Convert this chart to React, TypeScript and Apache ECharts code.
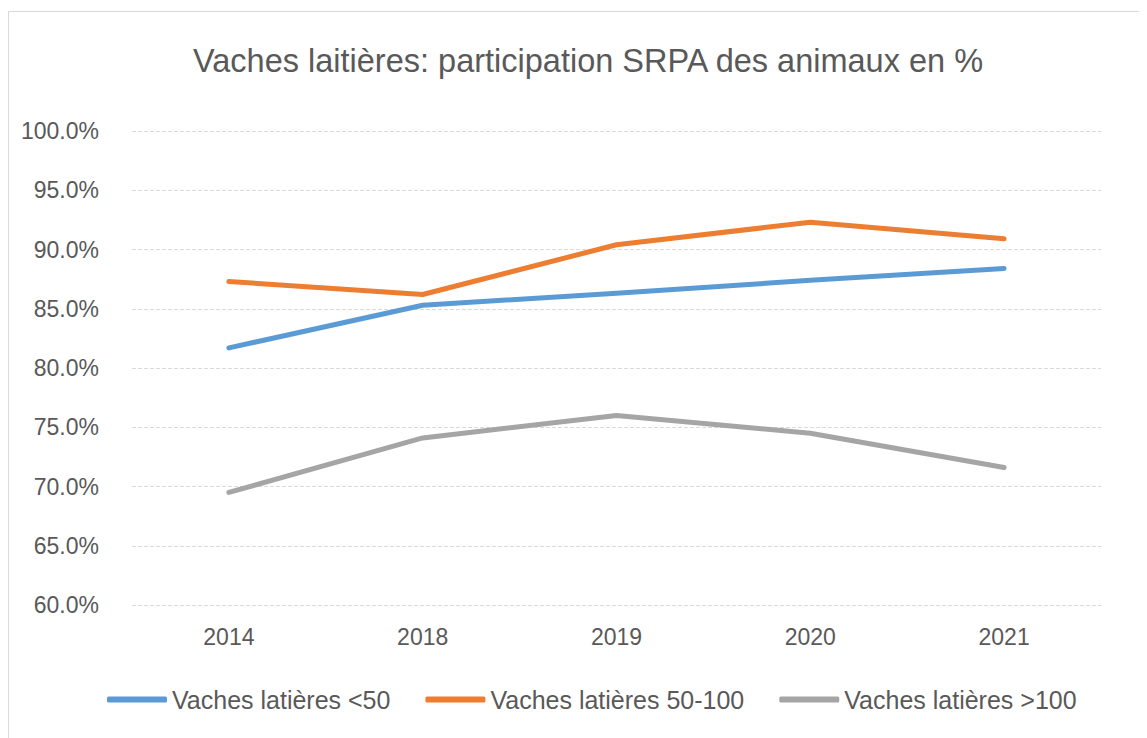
import React, { useEffect, useRef } from "react";
import * as echarts from "echarts";

const TITLE = "Vaches laitières: participation SRPA des animaux en %";
const categories = ["2014", "2018", "2019", "2020", "2021"];
const seriesNames = ["Vaches latières <50", "Vaches latières 50-100", "Vaches latières >100"];
const under50 = [81.7, 85.3, 86.3, 87.4, 88.4];
const from50to100 = [87.3, 86.2, 90.4, 92.3, 90.9];
const over100 = [69.5, 74.1, 76.0, 74.5, 71.6];
const yMin = 60;
const yMax = 100;
const yStep = 5;
const colors = ["#5B9BD5", "#ED7D31", "#A5A5A5"];

const FONT = "'Liberation Sans', Arial, sans-serif";
const TEXT = "#595959";

export default function App() {
  const ref = useRef<HTMLDivElement>(null);
  useEffect(() => {
    if (!ref.current) return;
    const chart = echarts.init(ref.current, null, { renderer: "svg" });
    const data = [under50, from50to100, over100];
    chart.setOption({
      animation: false,
      backgroundColor: "#ffffff",
      textStyle: { fontFamily: FONT },
      title: {
        text: TITLE,
        left: 575,
        textAlign: "center",
        top: 31,
        textStyle: { fontFamily: FONT, fontSize: 32.5, fontWeight: "normal", color: TEXT },
      },
      graphic: [
        {
          type: "rect",
          shape: { x: 0.5, y: 3.5, width: 1137, height: 760 },
          style: { fill: "none", stroke: "#d9d9d9", lineWidth: 1 },
          silent: true,
        },
      ],
      grid: { left: 124, right: 46, top: 123, bottom: 133, containLabel: false },
      legend: {
        left: 94,
        top: 674,
        itemWidth: 60,
        itemHeight: 6,
        itemGap: 35,
        icon: "roundRect",
        textStyle: { fontFamily: FONT, fontSize: 25, color: TEXT },
        data: seriesNames,
      },
      xAxis: {
        type: "category",
        data: categories,
        boundaryGap: true,
        axisLine: { show: false },
        axisTick: { show: false },
        axisLabel: { margin: 20, fontSize: 23, color: TEXT, fontFamily: FONT },
      },
      yAxis: {
        type: "value",
        min: yMin,
        max: yMax,
        interval: yStep,
        axisLine: { show: false },
        axisTick: { show: false },
        axisLabel: {
          margin: 33,
          fontSize: 23,
          color: TEXT,
          fontFamily: FONT,
          formatter: (v: number) => v.toFixed(1) + "%",
        },
        splitLine: { lineStyle: { color: "#d9d9d9", width: 1, type: [4, 2] } },
      },
      series: seriesNames.map((name, i) => ({
        name,
        type: "line",
        data: data[i],
        symbol: "none",
        color: colors[i],
        lineStyle: { width: 5, color: colors[i], cap: "round", join: "round" },
        itemStyle: { color: colors[i] },
      })),
    });
    return () => chart.dispose();
  }, []);
  return <div ref={ref} style={{ width: 1139, height: 730 }} />;
}
